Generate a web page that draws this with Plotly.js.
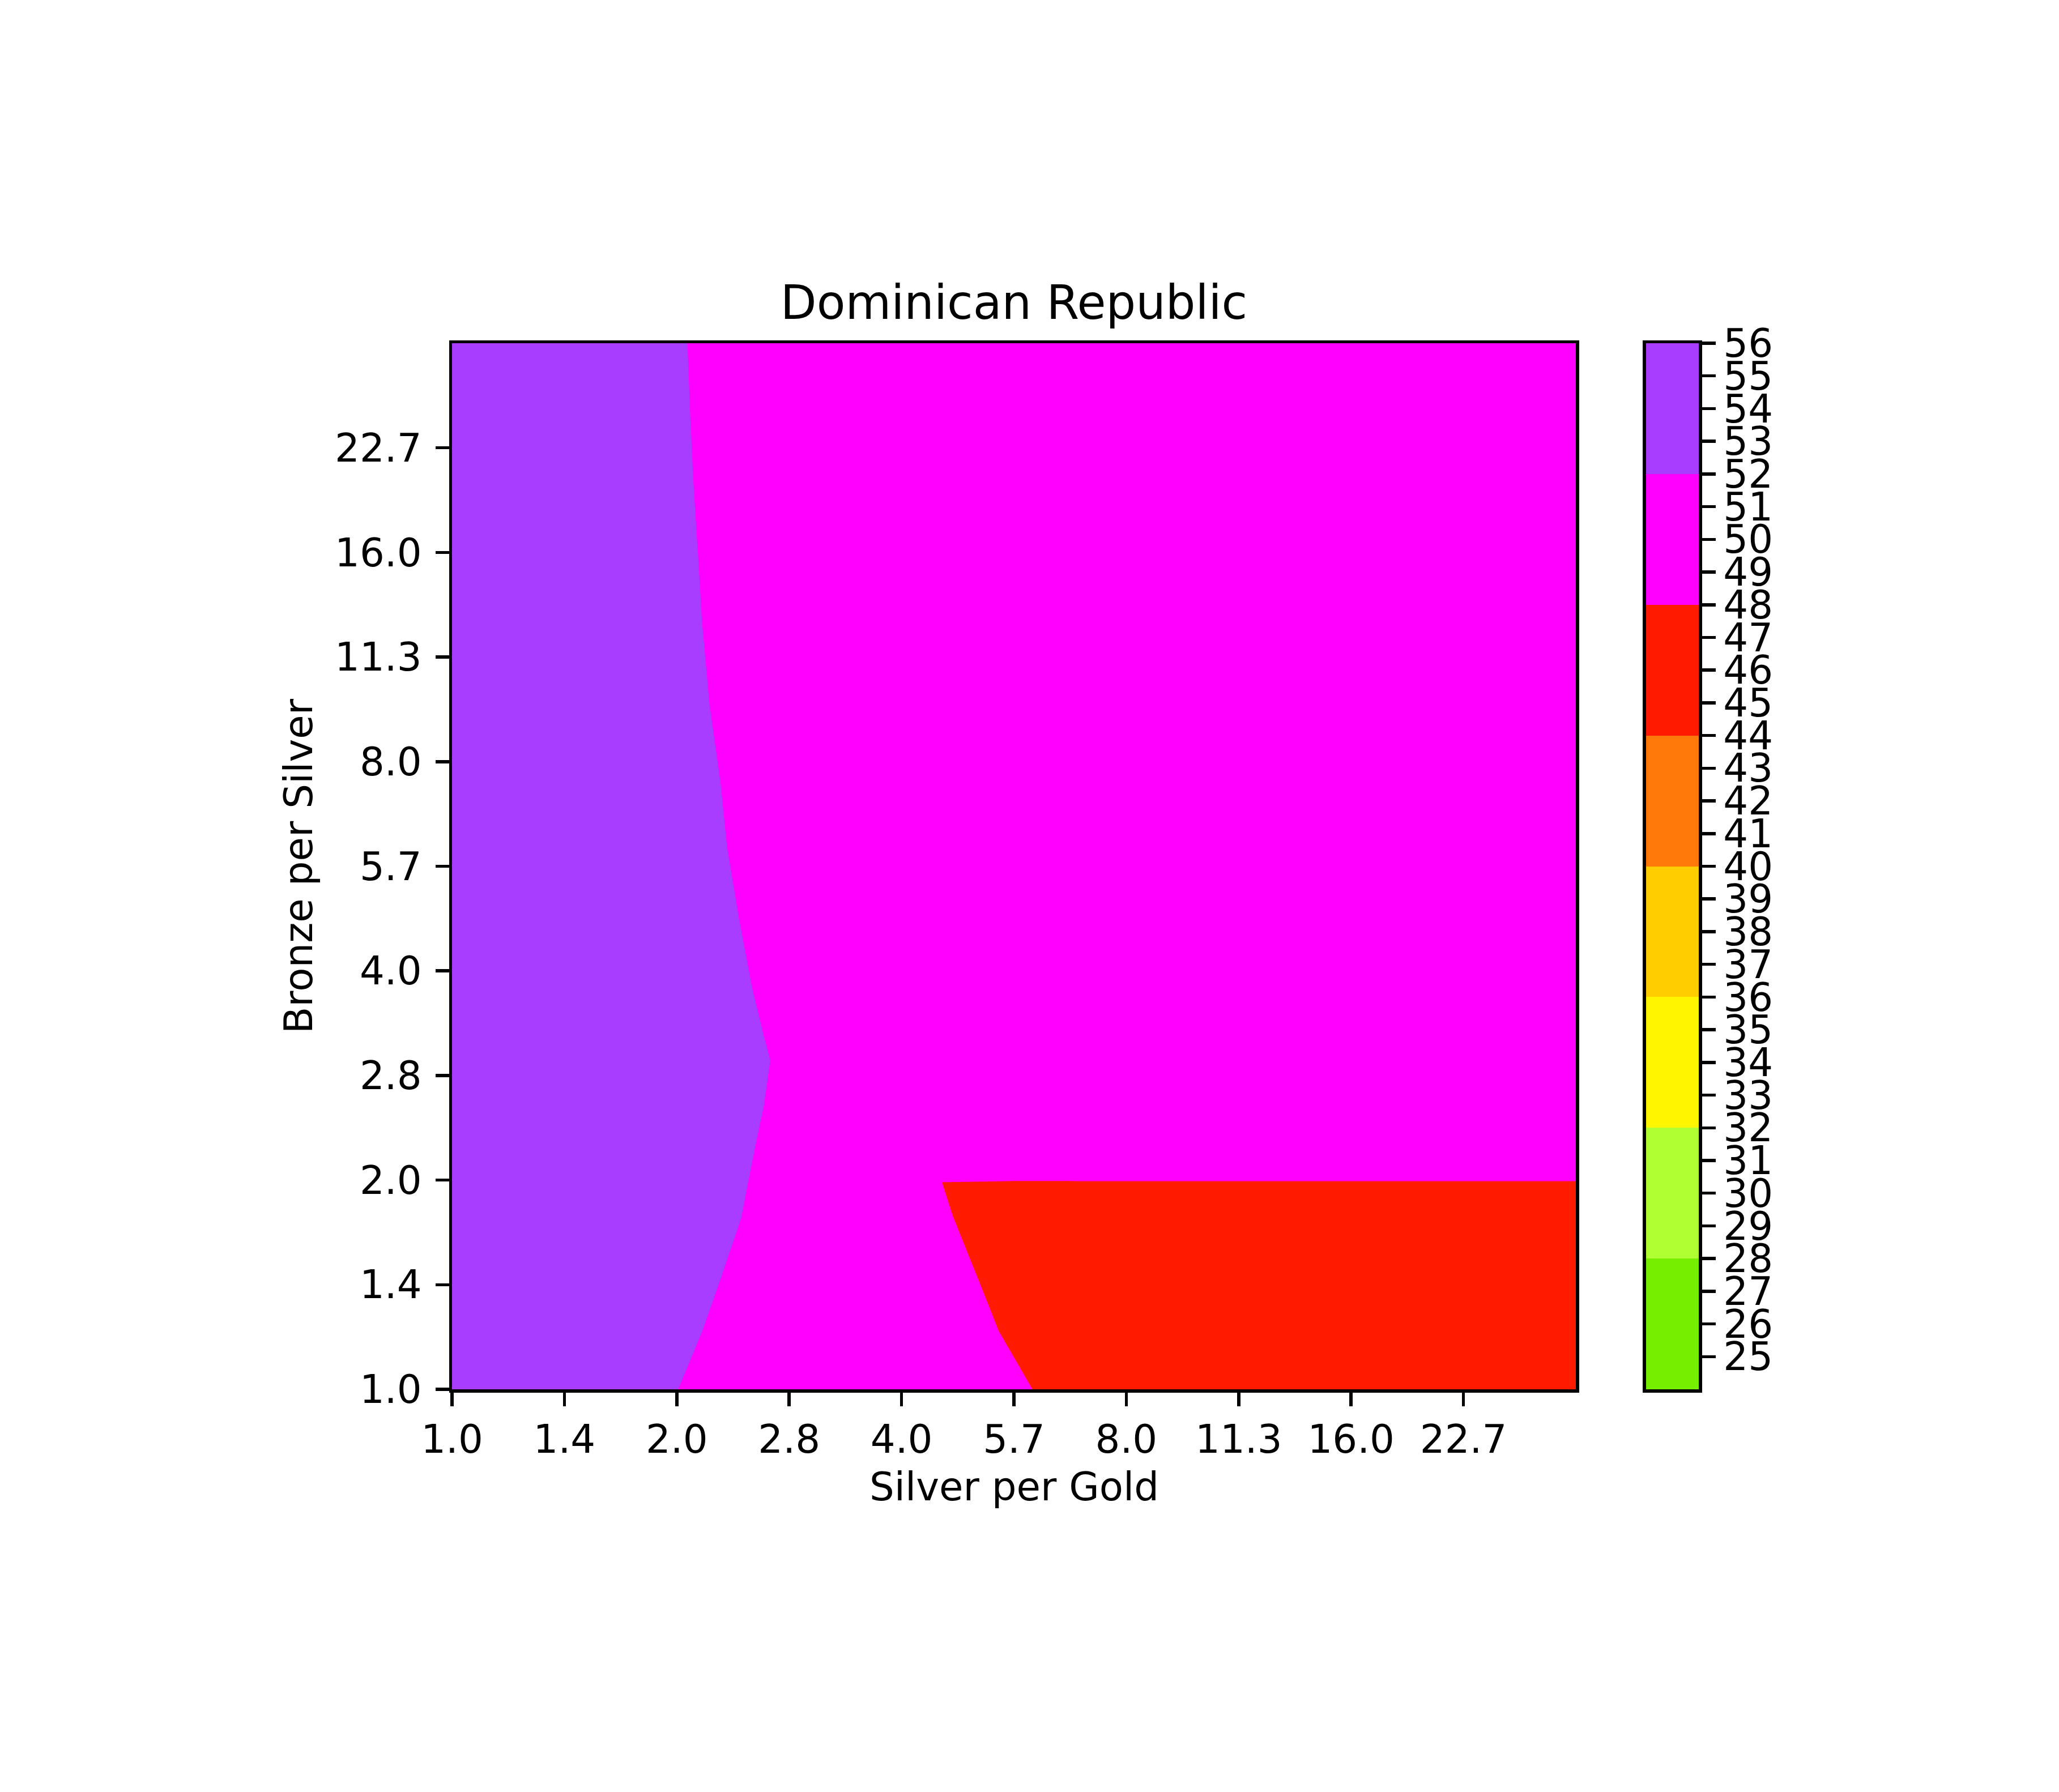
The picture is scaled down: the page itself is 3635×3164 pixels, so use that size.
<!DOCTYPE html>
<html><head><meta charset="utf-8">
<script src="https://cdn.plot.ly/plotly-3.0.1.min.js"></script>
<style>html,body{margin:0;padding:0;background:#fff;}</style>
</head><body>
<div id="chart" style="width:3635px;height:3164px;"></div>
<script>
// Grid positions are log2 of the ratios (axis labels show 2^value)
const silverPerGoldLog2 = [0, 0.5, 1, 1.5, 2, 2.5, 3, 3.5, 4, 4.5, 5];
const bronzePerSilverLog2 = [0, 0.279, 0.55, 0.82, 0.99, 1.0, 1.091, 1.362, 1.573, 1.687, 1.91,
                             2.247, 2.583, 2.921, 3.257, 3.669, 4.007, 4.342, 4.681, 5.0];
// Estimated rank value at each grid node (rows follow bronzePerSilverLog2)
const rankValues = [
  [54, 54, 52.05, 48.05, 50.00, 48.66, 44.66, 46, 46, 46, 46],
  [54, 54, 52.91, 48.91, 51.46, 47.46, 46, 46, 46, 46, 46],
  [54, 54, 53.62, 49.62, 50.66, 46.66, 46, 46, 46, 46, 46],
  [54, 54, 54.30, 50.30, 49.85, 45.85, 46, 46, 46, 46, 46],
  [54, 54, 54.54, 50.54, 49.44, 45.44, 46, 46, 46, 46, 46],
  [54, 54, 54.56, 50.56, 50, 50, 50, 50, 50, 50, 50],
  [54, 54, 54.69, 50.69, 50, 50, 50, 50, 50, 50, 50],
  [54, 54, 55.11, 51.11, 50, 50, 50, 50, 50, 50, 50],
  [54, 54, 55.33, 51.33, 50, 50, 50, 50, 50, 50, 50],
  [54, 54, 55.10, 51.10, 50, 50, 50, 50, 50, 50, 50],
  [54, 54, 54.70, 50.70, 50, 50, 50, 50, 50, 50, 50],
  [54, 54, 54.22, 50.22, 50, 50, 50, 50, 50, 50, 50],
  [54, 54, 53.80, 49.80, 50, 50, 50, 50, 50, 50, 50],
  [54, 54, 53.54, 49.54, 50, 50, 50, 50, 50, 50, 50],
  [54, 54, 53.18, 49.18, 50, 50, 50, 50, 50, 50, 50],
  [54, 54, 52.90, 48.90, 50, 50, 50, 50, 50, 50, 50],
  [54, 54, 52.75, 48.75, 50, 50, 50, 50, 50, 50, 50],
  [54, 54, 52.59, 48.59, 50, 50, 50, 50, 50, 50, 50],
  [54, 54, 52.47, 48.47, 50, 50, 50, 50, 50, 50, 50],
  [54, 54, 52.38, 48.38, 50, 50, 50, 50, 50, 50, 50]
];
const axisTickPos = [0, 0.5, 1, 1.5, 2, 2.5, 3, 3.5, 4, 4.5];
const axisTickLabels = ['1.0', '1.4', '2.0', '2.8', '4.0', '5.7', '8.0', '11.3', '16.0', '22.7'];
const levels = [24, 28, 32, 36, 40, 44, 48, 52, 56];
const colorbarTicks = [25,26,27,28,29,30,31,32,33,34,35,36,37,38,39,40,41,42,43,44,45,46,47,48,49,50,51,52,53,54,55,56];
const bandColors = ['#76ee00', '#b0ff33', '#fff500', '#ffcd00', '#ff780a', '#ff1a00', '#ff00ff', '#a83cff'];

const FONT = 'DejaVu Sans';
const nb = bandColors.length;
const contourScale = bandColors.map((c, i) => [i / (nb - 1), c]);
const stepScale = [];
bandColors.forEach((c, i) => { stepScale.push([i / nb, c]); stepScale.push([(i + 1) / nb, c]); });
const bandMid = levels.slice(0, -1).map((v, i) => [(v + levels[i + 1]) / 2]);
const lvlSize = levels[1] - levels[0];

const contour = {
  type: 'contour', x: silverPerGoldLog2, y: bronzePerSilverLog2, z: rankValues,
  xaxis: 'x', yaxis: 'y',
  autocontour: false,
  contours: { start: levels[1], end: levels[levels.length - 2], size: lvlSize, coloring: 'fill', showlines: false },
  line: { width: 0, smoothing: 0 },
  colorscale: contourScale, showscale: false, hoverinfo: 'skip'
};
const cbar = {
  type: 'heatmap', x: [0, 1], y: levels, z: bandMid,
  xaxis: 'x2', yaxis: 'y2',
  colorscale: stepScale, zmin: levels[0], zmax: levels[levels.length - 1],
  showscale: false, hoverinfo: 'skip'
};

const TICKF = 69;
const axBase = {
  showline: true, linewidth: 5.5, linecolor: 'black', mirror: true,
  showgrid: false, zeroline: false,
  ticks: 'outside', ticklen: 24, tickwidth: 5.5, tickcolor: 'black',
  tickfont: { family: FONT, size: TICKF, color: 'black' }
};
const yDom = [1 - 2453 / 3164, 1 - 606 / 3164];

const layout = {
  width: 3635, height: 3164,
  margin: { l: 0, r: 0, t: 0, b: 0, pad: 0 },
  paper_bgcolor: 'white', plot_bgcolor: 'white',
  showlegend: false,
  font: { family: FONT, color: 'black' },
  title: { text: 'Dominican Republic', font: { family: FONT, size: 83, color: 'black' },
           x: 1790 / 3635, xanchor: 'center', xref: 'container',
           y: 1 - 563 / 3164, yanchor: 'bottom', yref: 'container', pad: { t: 0, b: 0, l: 0, r: 0 } },
  xaxis: Object.assign({}, axBase, { domain: [798 / 3635, 2782 / 3635], range: [0, 5], anchor: 'y',
           tickmode: 'array', tickvals: axisTickPos, ticktext: axisTickLabels }),
  yaxis: Object.assign({}, axBase, { domain: yDom, range: [0, 5], anchor: 'x', ticklabelstandoff: 10,
           tickmode: 'array', tickvals: axisTickPos, ticktext: axisTickLabels }),
  xaxis2: { domain: [2905.5 / 3635, 2999 / 3635], range: [0, 1], anchor: 'y2',
            showline: true, linewidth: 5.5, linecolor: 'black', mirror: true,
            showgrid: false, zeroline: false, showticklabels: false, ticks: '' },
  yaxis2: Object.assign({}, axBase, { domain: yDom, range: [levels[0], levels[levels.length - 1]], anchor: 'x2', side: 'right',
            tickmode: 'array', tickvals: colorbarTicks, ticktext: colorbarTicks.map(String) }),
  annotations: [
    { text: 'Silver per Gold', xref: 'paper', yref: 'paper', x: 1790 / 3635, y: 1 - 2625 / 3164,
      xanchor: 'center', yanchor: 'middle', showarrow: false, font: { family: FONT, size: TICKF, color: 'black' } },
    { text: 'Bronze per Silver', xref: 'paper', yref: 'paper', x: 527 / 3635, y: 1 - 1529 / 3164,
      xanchor: 'center', yanchor: 'middle', textangle: -90, showarrow: false, font: { family: FONT, size: TICKF, color: 'black' } }
  ]
};

Plotly.newPlot('chart', [contour, cbar], layout, { staticPlot: true, displayModeBar: false });
</script>
</body></html>
